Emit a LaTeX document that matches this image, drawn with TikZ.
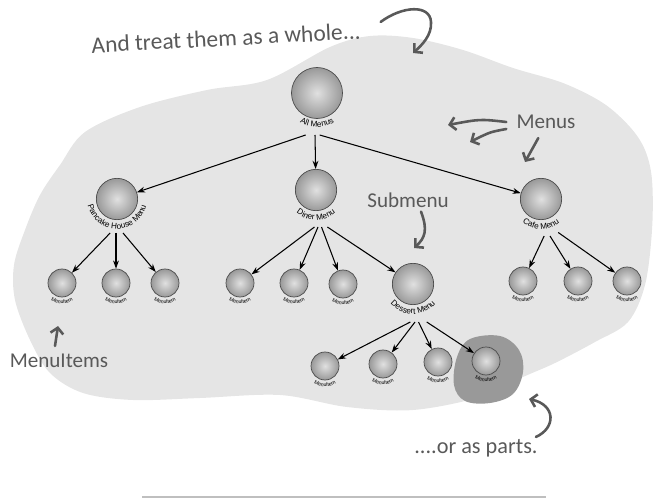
\documentclass[tikz,border=0pt]{standalone}
\usepackage{fontspec}
\setsansfont{Liberation Sans}
\newfontfamily\handfont{Carlito}
\usetikzlibrary{arrows.meta,decorations.text,calc}

% text bent round the lower side of a ball: node, radius, size, text
\newcommand{\balllabel}[4]{%
  \path[decorate,decoration={text along path,text align=center,
      text={|\sffamily\fontsize{#3}{#3}\selectfont|#4}}]
    ($(#1)+(160:#2)$) arc[start angle=160,end angle=380,radius=#2];}

\begin{document}
\begin{tikzpicture}[x=0.03cm,y=0.03cm,
  ball/.style={circle,draw=black!70,line width=0.6pt,inner sep=0pt,
    inner color=black!12,outer color=black!40},
  topball/.style={ball,minimum size=1.53cm},
  menuball/.style={ball,minimum size=1.24cm},
  itemball/.style={ball,minimum size=0.84cm},
  conn/.style={-{Stealth[length=7pt,width=5pt]},line width=0.9pt},
  hand/.style={draw=black!65,line width=2.2pt,line cap=round,
    -{Straight Barb[length=5pt,width=11pt]}},
  note/.style={text=black!65,inner sep=0pt,
    font=\handfont\fontsize{18}{20}\selectfont}]
\useasboundingbox (0,0) rectangle (655,500);

% the whole cloud
\fill[black!10] plot[smooth cycle,tension=0.55] coordinates {
  (330,453) (370,464) (413,462) (463,450) (513,432) (563,417) (603,397)
  (630,373) (645,350) (652,320) (652,270) (645,215) (628,178) (595,158)
  (555,137) (523,123) (480,103) (413,90) (347,93) (280,105) (200,102)
  (133,100) (83,107) (50,127) (30,160) (15,200) (14,235) (25,270)
  (40,305) (60,335) (85,368) (140,393) (207,410) (267,420)};
% one part picked out
\fill[black!40] plot[smooth cycle,tension=0.6] coordinates {
  (470,161) (500,164) (519,150) (523,128) (513,106) (490,97) (465,99)
  (454,115) (457,143)};

% tree
\node[topball] (all) at (317,407) {};
\node[menuball] (pancake) at (117,301) {};
\node[menuball] (diner) at (316,310) {};
\node[menuball] (cafe) at (541,301) {};
\node[menuball] (dessert) at (413,216) {};
\node[itemball] (p1) at (62,217) {};
\node[itemball] (p2) at (116,217) {};
\node[itemball] (p3) at (165,217) {};
\node[itemball] (d1) at (240,217) {};
\node[itemball] (d2) at (294,217) {};
\node[itemball] (d3) at (343,216) {};
\node[itemball] (c1) at (523,219) {};
\node[itemball] (c2) at (578,219) {};
\node[itemball] (c3) at (627,219) {};
\node[itemball] (s1) at (325,134) {};
\node[itemball] (s2) at (383,136) {};
\node[itemball] (s3) at (438,138) {};
\node[itemball] (s4) at (486,139) {};

\balllabel{all}{34}{7}{All Menus}
\balllabel{pancake}{30}{7}{Pancake House Menu}
\balllabel{diner}{30}{7}{Diner Menu}
\balllabel{cafe}{30}{7}{Cafe Menu}
\balllabel{dessert}{30}{7}{Dessert Menu}
\foreach \n in {p1,p2,p3,d1,d2,d3,c1,c2,c3,s1,s2,s3,s4}
  {\balllabel{\n}{20.5}{4.5}{MenuItem}}

\coordinate (all-out) at (315,365);
\coordinate (pancake-out) at (116,267);
\coordinate (diner-out) at (318,273);
\coordinate (cafe-out) at (550,264);
\coordinate (dessert-out) at (415,178);

\draw[conn] ([xshift=-8pt]all-out) -- (pancake);
\draw[conn] (all-out) -- (diner);
\draw[conn] ([xshift=4pt]all-out) -- (cafe);
\draw[conn] ([xshift=-5pt]pancake-out) -- (p1);
\draw[conn] (pancake-out) -- (p2);
\draw[conn] ([xshift=6pt]pancake-out) -- (p3);
\draw[conn] ([xshift=-3pt]diner-out) -- (d1);
\draw[conn] (diner-out) -- (d2);
\draw[conn] ([xshift=3pt]diner-out) -- (d3);
\draw[conn] ([xshift=8pt]diner-out) -- (dessert);
\draw[conn] ([xshift=-5pt]cafe-out) -- (c1);
\draw[conn] (cafe-out) -- (c2);
\draw[conn] ([xshift=7pt,yshift=3pt]cafe-out) -- (c3);
\draw[conn] ([xshift=-4pt]dessert-out) -- (s1);
\draw[conn] (dessert-out) -- (s2);
\draw[conn] ([xshift=3pt]dessert-out) -- (s3);
\draw[conn] ([xshift=10pt]dessert-out) -- (s4);

% notes
\node[note,rotate=3,font=\handfont\fontsize{20}{22}\selectfont] (whole) at (226,462)
  {And treat them as a whole...};
\node[note] (menus) at (546,378) {Menus};
\node[note] (submenu) at (408,300) {Submenu};
\node[note] (items) at (59,139) {MenuItems};
\node[note,font=\handfont\fontsize{19}{21}\selectfont] (parts) at (476,52) {....or as parts.};

\coordinate (whole-tip) at (413,447);
\coordinate (menus-tipA) at (448,375);
\coordinate (menus-tipB) at (470,358);
\coordinate (menus-tipC) at (525,338);
\coordinate (submenu-tip) at (414,252);
\coordinate (items-tip) at (58,174);
\coordinate (parts-tip) at (529,101);

\draw[hand] ($(whole.east)+(20,9)$) .. controls (402,494) and (430,496) .. (431,478)
  .. controls (432,465) and (422,455) .. (whole-tip);
\draw[hand] ($(menus.west)+(-10,0)$) .. controls (480,381) .. (menus-tipA);
\draw[hand] ($(menus.west)+(-10,-7)$) .. controls (490,368) .. (menus-tipB);
\draw[hand] ($(menus.south west)+(22,-9)$) -- (menus-tipC);
\draw[hand] ($(submenu.south)+(13,-4)$) .. controls (428,270) and (425,262) .. (submenu-tip);
\draw[hand] ($(items.north)+(-4,8)$) -- (items-tip);
\draw[hand] ($(parts.north east)+(-2,2)$) .. controls (556,72) and (556,95) .. (parts-tip);

\draw[black!25,line width=1pt] (142,3) -- (546,3);
\end{tikzpicture}
\end{document}
